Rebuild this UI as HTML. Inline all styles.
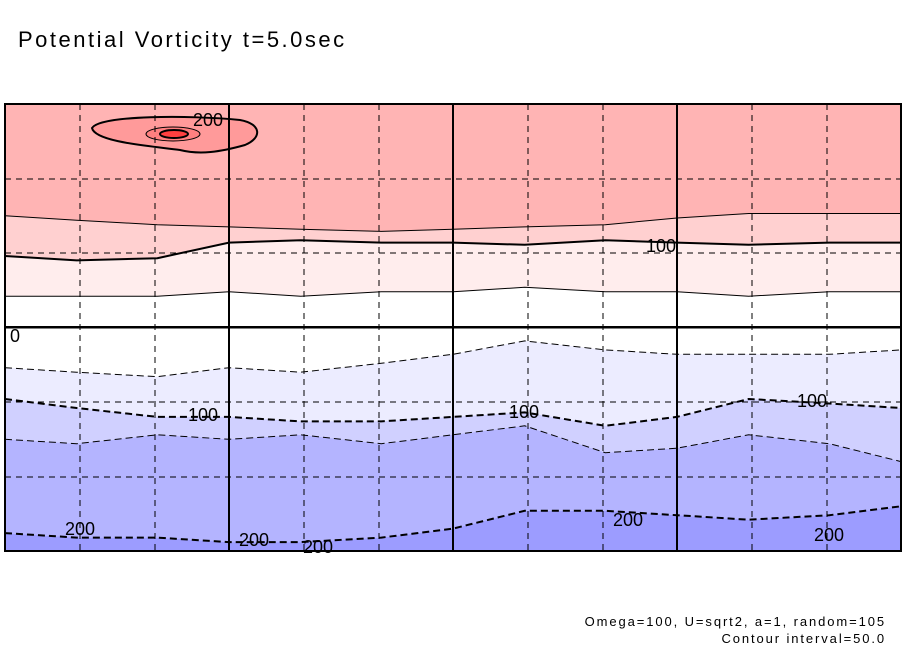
<!DOCTYPE html>
<html><head><meta charset="utf-8"><style>
body{margin:0;background:#fff;width:904px;height:654px;overflow:hidden;font-family:"Liberation Sans",sans-serif}
svg{display:block}
</style></head><body>
<svg id="c" width="904" height="654" xmlns="http://www.w3.org/2000/svg">
<text x="18" y="47" font-size="22" letter-spacing="2.5" fill="#000" font-family="Liberation Sans,sans-serif">Potential Vorticity t=5.0sec</text>
<g id="bands"></g>
<g id="lines"></g>
<g id="grid"></g>
<g id="labels"></g>
<rect x="5" y="104" width="896" height="447" fill="none" stroke="#000" stroke-width="2"/>
<text x="886" y="626" font-size="13" letter-spacing="1.9" text-anchor="end">Omega=100, U=sqrt2, a=1, random=105</text>
<text x="886" y="643" font-size="13" letter-spacing="1.9" text-anchor="end">Contour interval=50.0</text>
</svg>
<script>
const xs=[0,0.08,0.17,0.25,0.33,0.42,0.5,0.58,0.67,0.75,0.83,0.92,1];
const b150=[0.25,0.26,0.27,0.275,0.28,0.285,0.28,0.275,0.27,0.255,0.245,0.245,0.245];
const b100=[0.34,0.35,0.345,0.31,0.305,0.31,0.31,0.315,0.305,0.31,0.315,0.31,0.31];
const b50=[0.43,0.43,0.43,0.42,0.43,0.42,0.42,0.41,0.42,0.42,0.43,0.42,0.42];
const b0=[0.5,0.5,0.5,0.5,0.5,0.5,0.5,0.5,0.5,0.5,0.5,0.5,0.5];
const bm50=[0.59,0.6,0.61,0.59,0.6,0.58,0.56,0.53,0.55,0.56,0.56,0.56,0.55];
const bm100=[0.66,0.68,0.7,0.7,0.71,0.71,0.7,0.69,0.72,0.7,0.66,0.67,0.68];
const bm150=[0.75,0.76,0.74,0.75,0.74,0.76,0.74,0.72,0.78,0.77,0.74,0.76,0.8];
const bm200=[0.96,0.97,0.97,0.98,0.98,0.97,0.95,0.91,0.91,0.92,0.93,0.92,0.9];
const bounds=[b150,b100,b50,b0,bm50,bm100,bm150,bm200];
const levels=[150,100,50,0,-50,-100,-150,-200];
const fills=["#ffb4b4","#ffd0d0","#ffeded","#ffffff","#ffffff","#ececff","#d0d0ff","#b4b4ff","#9c9cff"];
const X0=5,W=896,Y0=104,H=447;
const sx=f=>X0+f*W, sy=f=>Y0+f*H;
const NS="http://www.w3.org/2000/svg";
function line(b){return xs.map((x,i)=>(i?'L':'M')+sx(x).toFixed(1)+' '+sy(b[i]).toFixed(1)).join(' ');}
const edgeTop=xs.map(()=>0), edgeBot=xs.map(()=>1);
const allB=[edgeTop,...bounds,edgeBot];
const bg=document.getElementById('bands');
for(let k=0;k<allB.length-1;k++){
  const a=allB[k],b=allB[k+1];
  let d=line(a)+' '+xs.slice().reverse().map((x,j)=>{const i=xs.length-1-j;return 'L'+sx(x).toFixed(1)+' '+sy(b[i]).toFixed(1);}).join(' ')+'Z';
  const p=document.createElementNS(NS,'path');
  p.setAttribute('d',d);p.setAttribute('fill',fills[k]);
  
  
  bg.appendChild(p);
}
const lg=document.getElementById('lines');
bounds.forEach((b,k)=>{
  const p=document.createElementNS(NS,'path');
  p.setAttribute('d',line(b));p.setAttribute('fill','none');p.setAttribute('stroke','#000');
  p.setAttribute('stroke-width',levels[k]%100===0?2:1);
  if(levels[k]<0)p.setAttribute('stroke-dasharray','7 4');
  
  
  lg.appendChild(p);
});
const blob=document.createElementNS(NS,'g');


blob.innerHTML='<path d="M92 128 C100 115,190 115,240 120 C262 124,262 138,245 145 C220 152,200 155,180 150 C150 146,95 142,92 128Z" fill="#ff9a9a" stroke="#000" stroke-width="2"/><ellipse cx="173" cy="134" rx="27" ry="7" fill="#ff8080" stroke="#000"/><ellipse cx="174" cy="134" rx="14" ry="4" fill="#ff4040" stroke="#000" stroke-width="2"/>';
lg.appendChild(blob);
const gg=document.getElementById('grid');
const vxs=[80,155,229,304,379,453,528,603,677,752,827];
vxs.forEach(x=>{const l=document.createElementNS(NS,'line');l.setAttribute('x1',x);l.setAttribute('x2',x);l.setAttribute('y1',104);l.setAttribute('y2',551);l.setAttribute('stroke','#000');
 const solid=(x===229||x===453||x===677);l.setAttribute('stroke-width',solid?2:1);if(!solid)l.setAttribute('stroke-dasharray','6 5');
 
 gg.appendChild(l);});
[179,253,327,402,477].forEach(y=>{const l=document.createElementNS(NS,'line');l.setAttribute('x1',5);l.setAttribute('x2',901);l.setAttribute('y1',y);l.setAttribute('y2',y);l.setAttribute('stroke','#000');
 const solid=y===327;l.setAttribute('stroke-width',solid?2:1);if(!solid)l.setAttribute('stroke-dasharray','6 5');
 
 gg.appendChild(l);});
const lab=document.getElementById('labels');
[[208,126,'200'],[661,252,'100'],[203,421,'100'],[524,418,'100'],[812,407,'100'],[80,535,'200'],[254,546,'200'],[628,526,'200'],[829,541,'200'],[318,553,'200'],[15,342,'0']].forEach(a=>{
 const t=document.createElementNS(NS,'text');t.setAttribute('x',a[0]);t.setAttribute('y',a[1]);t.setAttribute('font-size','18');t.setAttribute('text-anchor','middle');t.textContent=a[2];
 
 lab.appendChild(t);});
</script>
</body></html>
